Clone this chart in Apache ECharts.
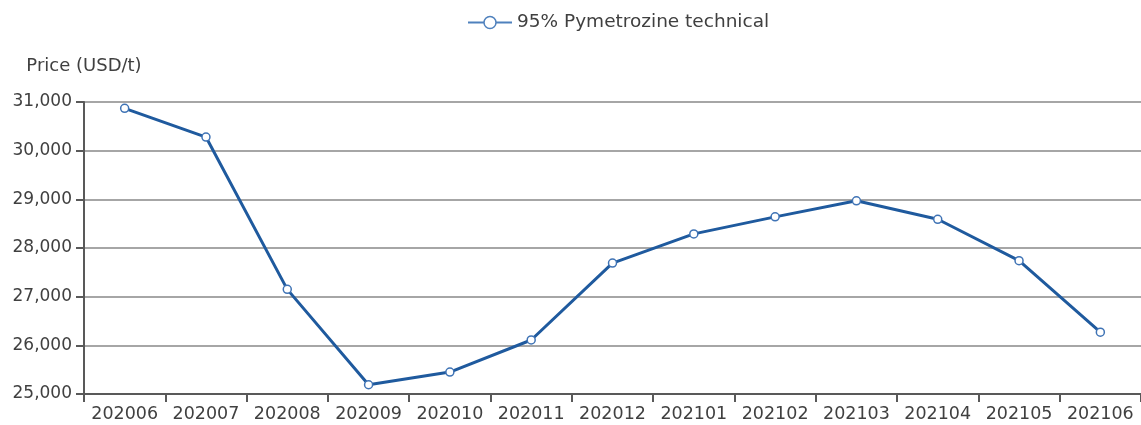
<!DOCTYPE html>
<html>
<head>
<meta charset="utf-8">
<script src="https://cdn.jsdelivr.net/npm/echarts@6/dist/echarts.min.js"></script>
<style>
  html, body { margin: 0; padding: 0; background: #fff; }
  #chart { width: 1141px; height: 425px; }
</style>
</head>
<body>
<div id="chart"></div>
<script>
// months on the x axis
const months = ["202006", "202007", "202008", "202009", "202010", "202011", "202012",
  "202101", "202102", "202103", "202104", "202105", "202106"];
// price, USD/t
const prices = [30870, 30280, 27150, 25190, 25450, 26110, 27690,
  28290, 28640, 28970, 28590, 27740, 26270];
const seriesName = "95% Pymetrozine technical";
const yName = "Price (USD/t)";

const font = "'DejaVu Sans', 'Noto Sans', sans-serif";
const chart = echarts.init(document.getElementById("chart"));

chart.setOption({
  animation: false,
  textStyle: { fontFamily: font },
  legend: {
    top: 8,
    left: 462,
    itemWidth: 44,
    itemHeight: 15,
    itemGap: 10,
    textStyle: { fontSize: 18.5, color: "#404040", fontFamily: font },
    lineStyle: { color: "#4f81bd", width: 2 },
    itemStyle: { color: "#ffffff", borderColor: "#4f81bd", borderWidth: 1.5 },
    data: [seriesName]
  },
  grid: { left: 84, right: -12, top: 102, bottom: 31 },
  xAxis: {
    type: "category",
    data: months,
    boundaryGap: true,
    axisLine: { lineStyle: { color: "#595959", width: 2 } },
    axisTick: { show: true, length: 8, lineStyle: { color: "#595959", width: 2 } },
    axisLabel: { fontSize: 17.5, color: "#404040", margin: 11, interval: 0 },
    splitLine: { show: false }
  },
  yAxis: {
    type: "value",
    min: 25000,
    max: 31000,
    interval: 1000,
    name: yName,
    nameLocation: "end",
    nameGap: 27,
    nameTextStyle: { fontSize: 18, color: "#404040", align: "center" },
    axisLine: { show: true, lineStyle: { color: "#595959", width: 2 } },
    axisTick: { show: true, length: 8, lineStyle: { color: "#595959", width: 2 } },
    axisLabel: {
      fontSize: 17, color: "#404040", margin: 12,
      formatter: v => v.toLocaleString("en-US")
    },
    splitLine: { lineStyle: { color: "#a6a6a6", width: 2 } }
  },
  series: [{
    name: seriesName,
    type: "line",
    data: prices,
    symbol: "circle",
    symbolSize: 8,
    itemStyle: { color: "#ffffff", borderColor: "#3f73b5", borderWidth: 1.5 },
    lineStyle: { color: "#1f5a9e", width: 3 }
  }]
});
</script>
</body>
</html>
